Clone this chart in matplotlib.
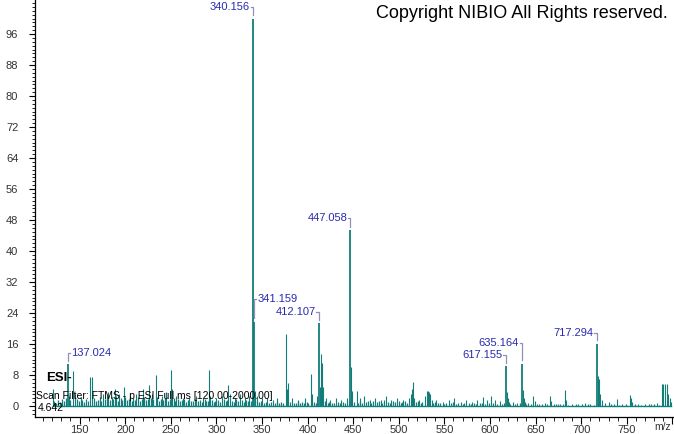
import matplotlib.pyplot as plt
from matplotlib.ticker import MultipleLocator, FixedLocator

plt.rcParams['font.family'] = ['Liberation Sans', 'DejaVu Sans']

# labelled peaks (m/z, relative abundance)
label_mz = [137.024, 340.156, 341.159, 412.107, 447.058, 617.155, 635.164, 717.294]
label_int = [10.8, 100.0, 21.7, 21.4, 45.4, 10.2, 10.9, 16.1]
label_y = [13.7, 103.0, 27.6, 24.3, 48.5, 13.2, 16.3, 18.8]
label_side = ["right", "left", "right", "left", "left", "left", "left", "left"]

# other visible peaks
peak_mz = [120.8, 138.0, 142.4, 145.0, 161.4, 164.0, 176.0, 181.0, 188.8, 193.0,
           198.7, 205.0, 212.0, 219.9, 226.0, 229.0, 233.8, 240.0, 245.0, 250.3,
           251.3, 256.0, 263.0, 270.0, 278.0, 285.0, 292.2, 293.2, 300.0, 306.0,
           313.0, 315.0, 320.0, 326.0, 331.0, 336.0, 342.2, 345.0, 350.0, 356.0,
           362.0, 367.0, 376.3, 377.3, 379.0, 383.0, 390.0, 397.0, 403.8, 405.0,
           410.0, 413.1, 414.7, 415.7, 417.2, 420.0, 425.0, 431.0, 437.0, 443.0,
           448.1, 449.0, 453.9, 458.0, 462.0, 468.0, 474.0, 480.0, 486.0, 492.0,
           498.0, 505.0, 511.0, 513.4, 514.6, 515.9, 517.0, 522.0, 528.5, 530.6,
           531.8, 533.0, 534.2, 536.0, 541.0, 548.0, 555.0, 561.0, 568.0, 574.0,
           580.0, 586.0, 592.7, 597.0, 601.0, 606.0, 611.0, 618.3, 619.3, 620.5,
           625.0, 630.0, 636.3, 637.3, 638.5, 642.0, 647.5, 649.0, 654.0, 660.0,
           665.8, 667.0, 672.0, 677.0, 682.3, 683.5, 690.0, 697.0, 704.0, 710.0,
           718.8, 719.8, 721.0, 722.5, 726.0, 730.0, 739.0, 745.0, 753.5, 754.6,
           756.0, 762.0, 770.0, 777.0, 783.0, 788.3, 790.0, 792.0, 793.8, 795.3,
           797.0, 799.0]
peak_int = [4.4, 2.5, 9.0, 3.0, 7.5, 7.5, 3.0, 3.5, 4.5, 3.0,
            4.8, 2.5, 3.0, 4.5, 5.5, 3.0, 8.0, 2.5, 3.5, 9.3,
            4.5, 2.5, 2.0, 2.0, 2.5, 2.0, 9.3, 2.5, 2.0, 2.5,
            5.3, 3.0, 2.0, 3.0, 2.0, 2.5, 4.0, 2.5, 2.0, 2.0,
            1.5, 2.0, 18.6, 4.5, 6.0, 2.0, 1.5, 2.0, 8.3, 3.0,
            2.5, 5.0, 13.5, 11.0, 5.0, 2.0, 1.5, 2.0, 1.5, 2.0,
            10.0, 4.0, 4.0, 2.0, 2.5, 1.5, 2.0, 1.5, 2.5, 1.5,
            2.0, 1.5, 2.0, 3.0, 4.5, 6.3, 2.0, 1.5, 2.5, 4.0,
            3.8, 3.5, 3.0, 1.5, 1.5, 1.0, 1.5, 2.0, 1.0, 1.5,
            1.0, 1.5, 2.2, 1.5, 2.7, 1.5, 1.2, 3.5, 2.0, 1.0,
            1.0, 0.8, 4.2, 2.0, 1.0, 0.8, 2.6, 1.2, 0.6, 0.8,
            2.6, 1.2, 0.5, 0.6, 4.1, 1.5, 0.6, 0.4, 0.7, 0.5,
            7.7, 7.0, 3.0, 1.5, 0.8, 1.0, 1.8, 0.6, 2.8, 2.0,
            1.0, 0.4, 0.5, 0.6, 0.8, 5.6, 5.8, 5.8, 5.8, 3.0,
            2.0, 1.0]

# low-level baseline noise
noise_mz = [122, 124, 126, 128, 131, 133, 135, 140, 147, 149, 151, 153, 155, 157,
            159, 166, 168, 170, 172, 174, 178, 180, 183, 185, 187, 190, 192, 195,
            197, 200, 202, 204, 207, 209, 211, 214, 216, 218, 221, 223, 225, 228,
            231, 235, 237, 239, 242, 244, 247, 249, 253, 255, 258, 260, 262, 265,
            267, 269, 272, 274, 276, 280, 282, 284, 287, 289, 291, 295, 297, 299,
            302, 304, 308, 310, 312, 317, 319, 322, 324, 328, 330, 333, 335, 338,
            344, 347, 349, 352, 354, 358, 360, 364, 366, 369, 371, 373, 381, 385,
            387, 389, 392, 394, 396, 399, 401, 407, 409, 419, 422, 424, 427, 429,
            433, 435, 439, 441, 445, 451, 455, 457, 460, 464, 466, 470, 472, 476,
            478, 482, 484, 488, 490, 494, 496, 500, 502, 504, 507, 509, 519, 521,
            524, 526, 538, 540, 543, 545, 550, 552, 557, 559, 563, 565, 570, 572,
            577, 579, 583, 585, 589, 591, 595, 599, 603, 608, 613, 615, 622, 627,
            633, 640, 645, 652, 657, 662, 670, 675, 680, 686, 694, 701, 707, 714,
            733, 736, 742, 749, 759, 766, 774, 780, 785]
noise_int = [1.2, 0.8, 1.5, 1.0, 1.8, 1.2, 2.0, 1.5, 1.8, 1.2, 2.2, 1.5, 1.0, 1.8,
             1.4, 2.0, 1.2, 1.6, 2.4, 1.3, 1.9, 2.5, 1.5, 2.2, 1.7, 2.6, 1.4, 2.0,
             1.6, 2.3, 1.5, 1.8, 1.2, 2.1, 1.6, 2.4, 1.3, 1.9, 2.2, 1.5, 1.8, 2.0,
             1.7, 2.3, 1.4, 1.9, 1.6, 2.1, 1.3, 1.8, 2.0, 1.4, 1.7, 1.2, 1.5, 1.9,
             1.1, 1.6, 1.4, 1.2, 1.8, 1.3, 1.5, 1.0, 1.7, 1.2, 1.4, 1.6, 1.1, 1.3,
             1.5, 1.0, 1.8, 1.2, 1.6, 1.4, 1.1, 1.7, 1.3, 1.5, 1.0, 1.6, 1.2, 1.4,
             1.3, 1.0, 1.2, 0.9, 1.1, 0.8, 1.0, 0.9, 1.2, 0.8, 1.0, 0.7, 1.1, 0.9,
             0.8, 1.2, 0.9, 1.0, 0.7, 1.1, 0.8, 1.0, 0.9, 1.2, 0.8, 1.0, 0.7, 0.9,
             1.1, 0.8, 1.0, 0.9, 1.2, 1.0, 0.8, 1.3, 0.9, 1.1, 1.4, 0.8, 1.2, 1.0,
             1.3, 0.9, 1.5, 1.1, 0.8, 1.2, 1.0, 1.4, 0.9, 1.1, 1.3, 0.8, 1.0, 1.2,
             0.9, 1.1, 0.8, 1.0, 0.7, 0.9, 0.6, 0.8, 0.7, 1.0, 0.6, 0.8, 0.5, 0.7,
             0.9, 0.6, 0.8, 0.5, 0.7, 0.9, 0.6, 0.8, 0.7, 0.5, 0.6, 0.8, 0.5, 0.6,
             0.7, 0.5, 0.4, 0.6, 0.5, 0.4, 0.6, 0.4, 0.5, 0.3, 0.6, 0.4, 0.5, 0.3,
             0.5, 0.4, 0.3, 0.5, 0.4, 0.3, 0.5, 0.4, 0.3]

x_ticks = [150, 200, 250, 300, 350, 400, 450, 500, 550, 600, 650, 700, 750, 800]
y_ticks = [0, 8, 16, 24, 32, 40, 48, 56, 64, 72, 80, 88, 96]

teal = '#137d7a'
lab_col = '#2a2ab0'
brk_col = '#9090b8'

fig = plt.figure(figsize=(6.74, 4.34), dpi=100)
ax = fig.add_axes([35 / 674, 17 / 434, 638 / 674, 417 / 434])

all_mz = noise_mz + peak_mz + label_mz
ax.plot([min(all_mz), max(all_mz)], [0, 0], color=teal, lw=1.0)
ax.vlines(noise_mz, 0, noise_int, color=teal, lw=0.9)
ax.vlines(peak_mz, 0, peak_int, color=teal, lw=0.8)
ax.vlines(label_mz, 0, label_int, color=teal, lw=1.3)

# peak labels with brackets
for mz, h, ly, side in zip(label_mz, label_int, label_y, label_side):
    gap = 3.5
    if side == "left":
        ax.text(mz - gap, ly, f"{mz:.3f}", ha='right', va='center', color=lab_col, fontsize=8)
        tx = mz - gap + 0.8
    else:
        ax.text(mz + gap, ly, f"{mz:.3f}", ha='left', va='center', color=lab_col, fontsize=8)
        tx = mz + gap - 0.8
    ax.plot([tx, mz, mz], [ly, ly, h + 0.9], color=brk_col, lw=0.9)

ax.set_xlim(101.1, 800.7)
ax.set_ylim(-2.84, 104.8)

ax.spines['top'].set_visible(False)
ax.spines['right'].set_visible(False)
ax.spines['left'].set_linewidth(0.9)
ax.spines['bottom'].set_linewidth(0.9)

ax.yaxis.set_major_locator(FixedLocator(y_ticks))
ax.yaxis.set_minor_locator(MultipleLocator(1))
ax.xaxis.set_major_locator(FixedLocator(x_ticks))
ax.xaxis.set_minor_locator(MultipleLocator(10))
ax.set_xticklabels([str(t) for t in x_ticks[:-1]] + [''])
ax.set_yticklabels([str(t) for t in y_ticks])
ax.tick_params(axis='y', which='major', length=4, width=0.8, pad=8, labelsize=8, labelcolor='#333333')
ax.tick_params(axis='y', which='minor', length=2, width=0.6)
ax.tick_params(axis='x', which='major', length=5, width=0.8, pad=0.5, labelsize=8, labelcolor='#333333')
ax.tick_params(axis='x', which='minor', length=3, width=0.6)

fig.text(663 / 674, 1 - 427 / 434, 'm/z', ha='center', va='center', fontsize=7.5, color='#333333')

fig.text(668 / 674, 1 - 14 / 434, 'Copyright NIBIO All Rights reserved.', ha='right', va='center',
         fontsize=13, color='black')
fig.text(46 / 674, 1 - 378 / 434, 'ESI-', ha='left', va='center', fontsize=9.5,
         fontweight='bold', color='black')
fig.text(36 / 674, 1 - 396 / 434, 'Scan Filter: FTMS - p ESI Full ms [120.00-2000.00]', ha='left',
         va='center', fontsize=7.5, color='black')
fig.text(38 / 674, 1 - 408 / 434, '4.642', ha='left', va='center', fontsize=7.5, color='black')

fig.savefig('out.png', dpi=100)
